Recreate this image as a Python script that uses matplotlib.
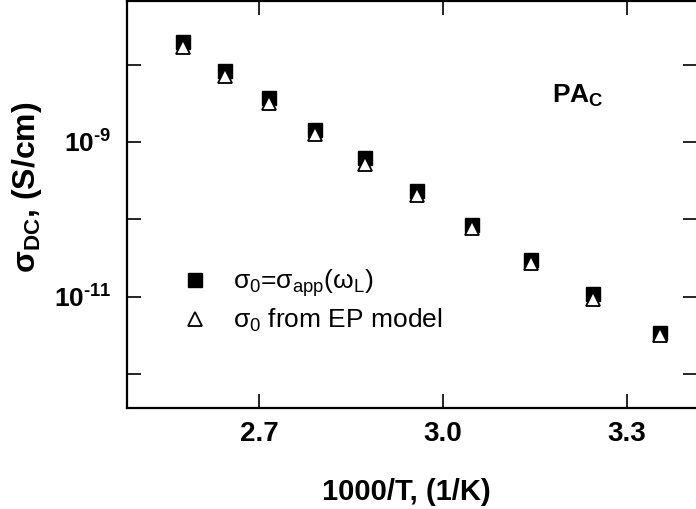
import numpy as np
import matplotlib
matplotlib.use('Agg')
import matplotlib.pyplot as plt
from matplotlib.ticker import FixedLocator, FuncFormatter, NullLocator

plt.rcParams['font.family'] = ['Liberation Sans', 'DejaVu Sans']
plt.rcParams['mathtext.fontset'] = 'custom'
plt.rcParams['mathtext.rm'] = 'Liberation Sans'
plt.rcParams['mathtext.it'] = 'Liberation Sans:italic'
plt.rcParams['mathtext.bf'] = 'Liberation Sans:bold'

# Data
inv_T = [2.576, 2.644, 2.716, 2.792, 2.872, 2.957, 3.047, 3.143, 3.245, 3.354]
log_sigma_app = [-7.71, -8.08, -8.43, -8.85, -9.21, -9.63, -10.07, -10.52, -10.97, -11.47]
log_sigma_ep = [-7.77, -8.15, -8.50, -8.90, -9.29, -9.68, -10.11, -10.57, -11.03, -11.50]

sigma_app = 10.0 ** np.array(log_sigma_app)
sigma_ep = 10.0 ** np.array(log_sigma_ep)

fig = plt.figure(figsize=(6.96, 5.09), dpi=100)
ax = fig.add_axes([0.1818, 0.1984, 0.8197, 0.7996])

ax.plot(inv_T, sigma_app, 's', color='black', markersize=9.5, zorder=3,
        label=r'$\mathrm{σ_0}$=$\mathrm{σ_{app}(ω_L)}$')
ax.plot(inv_T, sigma_ep, '^', markerfacecolor='white', markeredgecolor='black',
        markeredgewidth=1.3, markersize=10.5, zorder=4,
        label=r'$\mathrm{σ_0}$ from EP model')

ax.set_yscale('log')
ax.set_xlim(2.484, 3.414)
ax.set_ylim(10 ** -12.44, 10 ** -7.177)

ax.xaxis.set_major_locator(FixedLocator([2.7, 3.0, 3.3]))
ax.xaxis.set_minor_locator(NullLocator())
ax.yaxis.set_major_locator(FixedLocator([1e-12, 1e-11, 1e-10, 1e-9, 1e-8]))
ax.yaxis.set_minor_locator(NullLocator())

HYPHEN = '\u2010'


def ylab(v, pos):
    e = int(round(np.log10(v)))
    if e in (-9, -11):
        return '$\\mathbf{10^{' + HYPHEN + str(-e) + '}}$'
    return ''


ax.yaxis.set_major_formatter(FuncFormatter(ylab))
ax.xaxis.set_major_formatter(FuncFormatter(lambda v, p: '%.1f' % v))

ax.tick_params(direction='in', length=10, width=1.2, top=True, right=True,
               labelsize=20, pad=9)
ax.tick_params(axis='y', labelsize=19, pad=11)
for lab in ax.get_xticklabels() + ax.get_yticklabels():
    lab.set_fontweight('bold')
for sp in ax.spines.values():
    sp.set_linewidth(1.6)

fig.text(27 / 696, 1 - 187 / 509, r'$\mathbf{σ_{DC}}$, (S/cm)', rotation=90,
         ha='center', va='center', fontsize=23, fontweight='bold')
fig.text(406 / 696, 1 - 492 / 509, '1000/T, (1/K)', ha='center', va='center',
         fontsize=21, fontweight='bold')

ax.text(552 / 696, 1 - 96 / 509, r'PA$_\mathbf{C}$', transform=fig.transFigure,
        ha='left', va='center', fontsize=19, fontweight='bold')

ax.legend(loc='upper left', bbox_to_anchor=(0.078, 0.371), frameon=False,
          fontsize=19, handlelength=1.0, handletextpad=0.95, labelspacing=0.3,
          borderaxespad=0)

fig.savefig('out.png', dpi=100)
